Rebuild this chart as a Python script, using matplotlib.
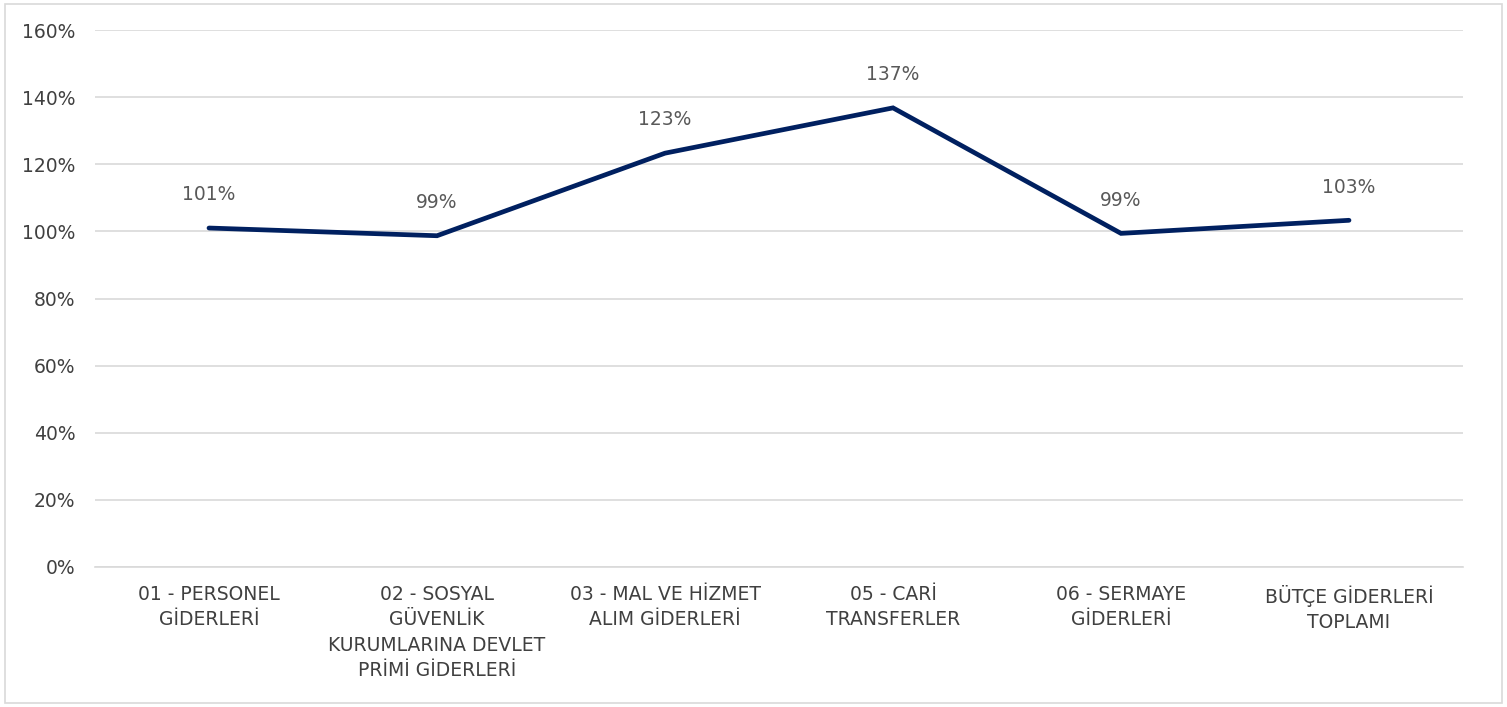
import matplotlib
matplotlib.use("Agg")
import matplotlib.pyplot as plt
from matplotlib.patches import Rectangle

categories = [
    "01 - PERSONEL\nGİDERLERİ",
    "02 - SOSYAL\nGÜVENLİK\nKURUMLARINA DEVLET\nPRİMİ GİDERLERİ",
    "03 - MAL VE HİZMET\nALIM GİDERLERİ",
    "05 - CARİ\nTRANSFERLER",
    "06 - SERMAYE\nGİDERLERİ",
    "BÜTÇE GİDERLERİ\nTOPLAMI",
]
values = [101.0, 98.7, 123.3, 136.8, 99.4, 103.3]
labels = ["101%", "99%", "123%", "137%", "99%", "103%"]
yticks = [0, 20, 40, 60, 80, 100, 120, 140, 160]

plt.rcParams['font.family'] = ['DejaVu Sans']

W, H = 1507, 707
fig = plt.figure(figsize=(W / 100, H / 100), dpi=100)
ax = fig.add_axes([95 / W, 1 - 567 / H, (1463 - 95) / W, (567 - 30) / H])

x = list(range(len(categories)))
ax.plot(x, values, color="#002060", linewidth=3.4, solid_capstyle="round", solid_joinstyle="miter", zorder=3)
for xi, v, lab in zip(x, values, labels):
    ax.annotate(lab, (xi, v), xytext=(0, 20), textcoords="offset points",
                ha="center", va="baseline", fontsize=13.5, color="#595959")

ax.set_xlim(-0.5, len(categories) - 0.5)
ax.set_ylim(0, 160)
ax.set_yticks(yticks)
ax.set_yticklabels([f"{t}%" for t in yticks])
ax.set_xticks(x)
ax.set_xticklabels(categories, linespacing=1.42)
ax.tick_params(axis="both", length=0, labelsize=13.5, labelcolor="#404040")
ax.tick_params(axis="y", pad=14)
ax.tick_params(axis="x", pad=13)
ax.grid(axis="y", color="#d9d9d9", linewidth=1.2)
ax.set_axisbelow(True)
for s in ["top", "right", "left"]:
    ax.spines[s].set_visible(False)
ax.spines["bottom"].set_color("#d9d9d9")
ax.spines["bottom"].set_linewidth(1.2)

fig.patches.append(Rectangle((5 / W, 4 / H), (W - 10) / W, (H - 8) / H, transform=fig.transFigure,
                             fill=False, edgecolor="#d9d9d9", linewidth=1.2))

fig.savefig("out.png", dpi=100, facecolor="white")
